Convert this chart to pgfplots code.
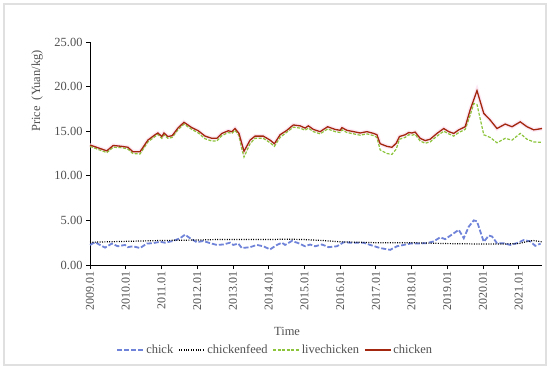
\documentclass[border=0pt]{standalone}
\usepackage{fontspec}
\setmainfont{Liberation Serif}
\usepackage{pgfplots}
\usepackage{pgfplotstable}
\pgfplotsset{compat=1.18}
\definecolor{chickc}{HTML}{6F83D9}
\definecolor{livec}{HTML}{8CC43C}
\definecolor{chkc}{HTML}{A3270F}
\definecolor{halo}{HTML}{FCE8F4}
\definecolor{tickc}{HTML}{505050}

% x = years since 2009.01
\pgfplotstableread{
x y
0 2.25
0.14 2.55
0.42 1.95
0.61 2.4
0.78 2.1
0.98 2.25
1.06 2.0
1.20 2.1
1.40 1.9
1.59 2.4
1.76 2.45
1.96 2.6
2.10 2.5
2.33 2.7
2.52 3.0
2.66 3.4
2.80 3.0
2.99 2.55
3.17 2.7
3.36 2.45
3.55 2.25
3.73 2.3
3.92 2.5
4.01 2.25
4.15 2.4
4.25 1.9
4.48 2.0
4.67 2.25
4.85 2.1
5.04 1.75
5.23 2.25
5.37 2.5
5.46 2.25
5.65 2.7
5.83 2.45
6.02 2.1
6.16 2.3
6.30 2.1
6.49 2.3
6.68 2.0
6.91 2.1
7.10 2.55
7.28 2.5
7.47 2.5
7.66 2.5
7.84 2.25
8.12 1.9
8.40 1.7
8.59 2.1
8.78 2.25
8.96 2.4
9.15 2.4
9.43 2.45
9.62 2.65
9.80 3.1
9.94 2.9
10.18 3.55
10.32 3.95
10.46 3.0
10.60 4.3
10.74 5.0
10.83 4.9
11.02 2.6
11.16 3.3
11.25 3.2
11.39 2.45
11.58 2.45
11.76 2.25
11.95 2.45
12.14 2.8
12.32 2.65
12.46 2.15
12.61 2.4
}\chick

\pgfplotstableread{
x y
0 2.55
1 2.65
2 2.75
3 2.8
3.5 2.85
4 2.85
5 2.85
5.5 2.9
6 2.85
6.5 2.75
7 2.6
7.5 2.55
8 2.5
9 2.5
9.5 2.45
10 2.4
11 2.35
11.5 2.35
12 2.4
12.2 2.6
12.4 2.75
12.65 2.6
}\feed

\pgfplotstableread{
x y
0 13.3
0.47 12.6
0.65 13.2
0.89 13.15
1.06 13.0
1.20 12.5
1.40 12.45
1.62 13.8
1.82 14.4
1.90 14.65
2.01 14.2
2.07 14.6
2.18 14.2
2.30 14.3
2.46 15.15
2.63 15.8
2.85 15.2
3.03 14.8
3.22 14.15
3.41 13.9
3.55 13.9
3.69 14.5
3.87 14.85
3.97 14.75
4.06 15.1
4.17 14.5
4.25 13.0
4.31 12.1
4.48 13.6
4.62 14.2
4.85 14.2
5.04 13.7
5.16 13.3
5.32 14.3
5.51 14.9
5.69 15.45
5.88 15.35
6.02 15.1
6.11 15.35
6.25 14.95
6.44 14.7
6.65 15.25
6.86 14.95
7.00 14.85
7.05 15.15
7.19 14.85
7.38 14.7
7.56 14.55
7.75 14.7
7.94 14.5
8.03 14.3
8.12 12.9
8.31 12.5
8.45 12.4
8.57 13.0
8.66 14.1
8.82 14.3
8.92 14.6
9.01 14.55
9.10 14.65
9.24 13.9
9.38 13.65
9.52 13.8
9.71 14.45
9.90 15.0
10.04 14.7
10.18 14.45
10.32 14.85
10.50 15.2
10.64 16.8
10.74 18.1
10.83 18.0
11.02 14.6
11.20 14.3
11.39 13.7
11.62 14.2
11.81 14.0
12.04 14.75
12.23 14.1
12.42 13.8
12.65 13.75
}\live

\pgfplotstableread{
x y
0 13.45
0.47 12.8
0.65 13.4
0.89 13.3
1.06 13.2
1.20 12.7
1.40 12.7
1.62 14.0
1.82 14.6
1.90 14.8
2.01 14.4
2.07 14.8
2.18 14.4
2.30 14.5
2.46 15.35
2.63 16.0
2.85 15.4
3.03 15.05
3.22 14.45
3.41 14.2
3.55 14.2
3.69 14.75
3.87 15.05
3.97 14.95
4.06 15.3
4.17 14.75
4.25 13.6
4.31 12.75
4.48 14.0
4.62 14.45
4.85 14.45
5.04 14.0
5.16 13.6
5.32 14.6
5.51 15.1
5.69 15.7
5.88 15.6
6.02 15.35
6.11 15.6
6.25 15.2
6.44 14.95
6.65 15.5
6.86 15.2
7.00 15.1
7.05 15.4
7.19 15.1
7.38 14.95
7.56 14.8
7.75 14.95
7.94 14.75
8.03 14.6
8.12 13.6
8.31 13.3
8.45 13.2
8.57 13.65
8.66 14.4
8.82 14.6
8.92 14.85
9.01 14.8
9.10 14.9
9.24 14.2
9.38 13.95
9.52 14.1
9.71 14.75
9.90 15.3
10.04 14.95
10.18 14.75
10.32 15.15
10.50 15.5
10.64 17.4
10.83 19.55
11.02 17.0
11.20 16.25
11.39 15.3
11.62 15.8
11.81 15.5
12.04 16.05
12.23 15.5
12.42 15.15
12.65 15.3
}\chicken

\begin{document}
\begin{tikzpicture}[x=1bp,y=1bp]
\useasboundingbox (0,0) rectangle (550,370);
\draw[draw=black!12, line width=1.2bp] (4,5) rectangle (546,366);
\begin{axis}[
  at={(90bp,105bp)}, anchor=south west,
  scale only axis, width=452bp, height=223bp,
  xmin=0, xmax=12.65, ymin=0, ymax=25,
  axis x line*=bottom, axis y line*=left,
  axis line style={black, line width=1bp},
  tick align=outside, major tick length=4bp,
  tick style={black, line width=0.8bp},
  xtick={0,1,...,12},
  xticklabels={2009.01,2010.01,2011.01,2012.01,2013.01,2014.01,2015.01,2016.01,2017.01,2018.01,2019.01,2020.01,2021.01},
  xticklabel style={rotate=90, anchor=east, font=\fontsize{12}{12}\selectfont, text=tickc, inner sep=2bp},
  ytick={0,5,...,25},
  yticklabel style={font=\fontsize{12.5}{12.5}\selectfont, text=tickc, /pgf/number format/.cd, fixed, fixed zerofill, precision=2, assume math mode=true},
  xlabel={Time},
  xlabel style={at={(axis description cs:0.436,-0.296)}, anchor=center, font=\fontsize{12.5}{12.5}\selectfont, text=tickc},
  ylabel={Price~~(Yuan/kg)},
  ylabel style={at={(axis description cs:-0.117,0.78)}, anchor=center, rotate=0, font=\fontsize{12.5}{12.5}\selectfont, text=tickc},
  legend columns=4,
  legend style={at={(axis description cs:0.41,-0.381)}, anchor=center, draw=none, fill=none,
    font=\fontsize{12.5}{12.5}\selectfont, text=tickc,
    /tikz/every even column/.append style={column sep=3bp}},
  legend image code/.code={\draw[#1] (0bp,0bp) -- (26bp,0bp);},
  clip=false,
]
\addplot[halo, line width=4bp, forget plot] table[x=x,y=y] {\chicken};
\addplot[chickc, line width=1.8bp, dash pattern=on 5bp off 2bp] table[x=x,y=y] {\chick};
\addlegendentry{chick}
\addplot[black, line width=1.2bp, dash pattern=on 1bp off 1.4bp] table[x=x,y=y] {\feed};
\addlegendentry{chickenfeed}
\addplot[livec, line width=1.2bp, dash pattern=on 3bp off 1.5bp] table[x=x,y=y] {\live};
\addlegendentry{livechicken}
\addplot[chkc, line width=1.3bp] table[x=x,y=y] {\chicken};
\addlegendentry{chicken}
\end{axis}
\end{tikzpicture}
\end{document}
